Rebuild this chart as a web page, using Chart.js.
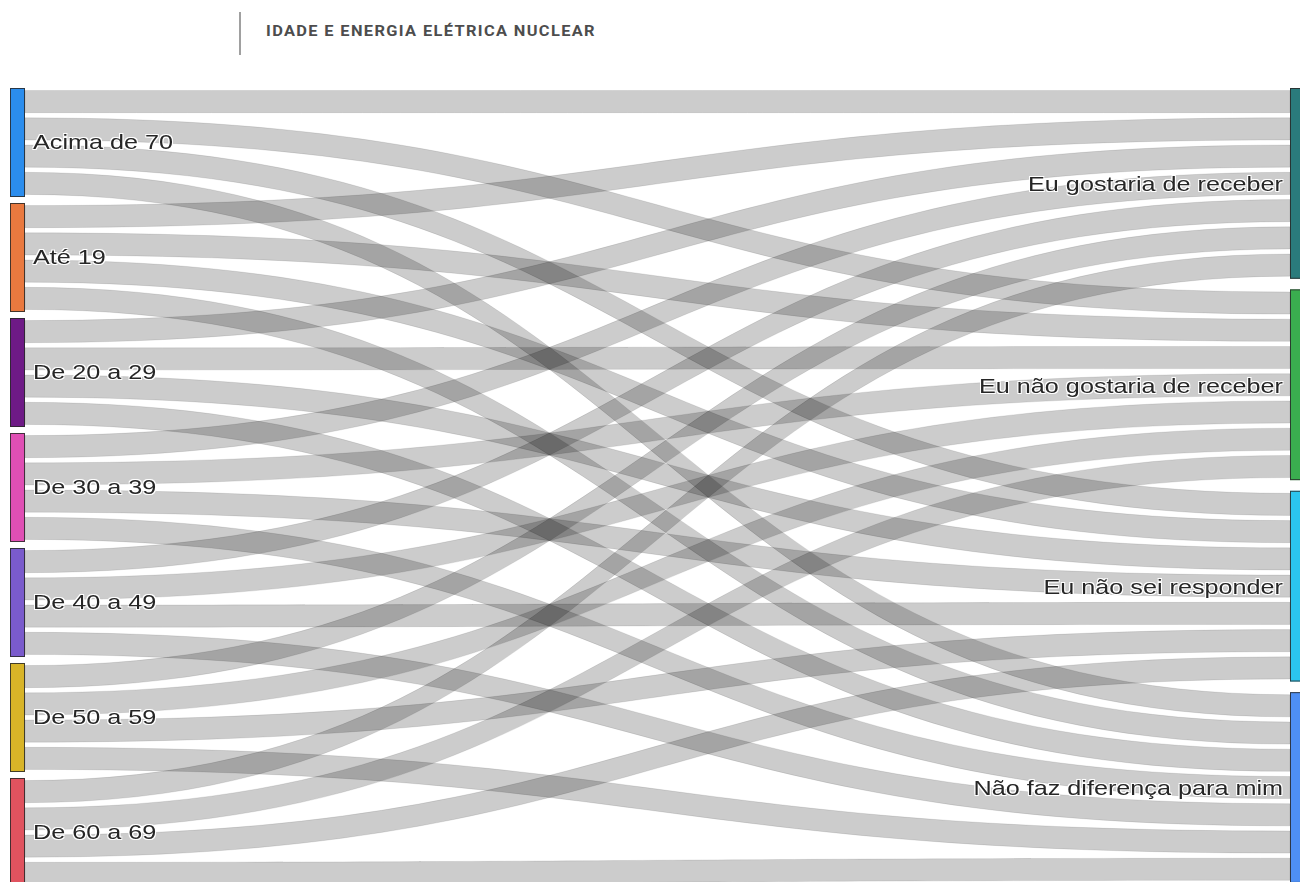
<!DOCTYPE html>
<html lang="pt">
<head>
<meta charset="utf-8">
<title>Idade e energia elétrica nuclear</title>
<script src="https://cdn.jsdelivr.net/npm/chart.js@4/dist/chart.umd.min.js"></script>
<style>
  html, body { margin: 0; padding: 0; background: #ffffff; overflow: hidden; }
  #page { position: relative; width: 1300px; height: 882px; overflow: hidden; }
  #rule { position: absolute; left: 239px; top: 12px; width: 2px; height: 43px; background: #a0a0a0; }
  #heading {
    position: absolute; left: 266px; top: 23px;
    font-family: Roboto, "Liberation Sans", sans-serif; font-weight: 700;
    font-size: 14.5px; letter-spacing: 1.2px; color: #4d4d4d;
    transform: scaleX(1.13); transform-origin: left top; white-space: nowrap;
  }
  #wrap { position: absolute; left: 0; top: 0; width: 1300px; height: 887px; }
</style>
</head>
<body>
<div id="page">
  <div id="rule"></div>
  <div id="heading">IDADE E ENERGIA ELÉTRICA NUCLEAR</div>
  <div id="wrap"><canvas id="sankey"></canvas></div>
</div>
<script>
// Age groups (left column) and answers (right column)
const ages = ['Acima de 70', 'Até 19', 'De 20 a 29', 'De 30 a 39', 'De 40 a 49', 'De 50 a 59', 'De 60 a 69'];
const responses = ['Eu gostaria de receber', 'Eu não gostaria de receber', 'Eu não sei responder', 'Não faz diferença para mim'];

// Flow size from each age group (same order as `ages`) into each answer
const gostaria     = [1, 1, 1, 1, 1, 1, 1];
const naoGostaria  = [1, 1, 1, 1, 1, 1, 1];
const naoSei       = [1, 1, 1, 1, 1, 1, 1];
const semDiferenca = [1, 1, 1, 1, 1, 1, 1];

// Node colours
const ageColors = ['#2b8ded', '#e9793f', '#6e1a86', '#df4fb4', '#7a5bcc', '#d8b428', '#e0535f'];
const responseColors = ['#2a7b7c', '#3aae4f', '#2bc5ee', '#4e8ff4'];

const flowsByResponse = [gostaria, naoGostaria, naoSei, semDiferenca];

// Left node totals and right node totals derived from the flows
const ageTotals = ages.map((_, i) => flowsByResponse.reduce((s, arr) => s + arr[i], 0));
const responseTotals = flowsByResponse.map(arr => arr.reduce((s, v) => s + v, 0));

const LEFT_PAD = 0.22;          // vertical gap between age nodes (value units)
const RIGHT_PAD = 0.39;         // vertical gap between answer nodes (value units)
const LINK_INSET = 0.095;       // white space on each side of a band (value units)
const NODE_W = 15;              // node thickness in px
const leftSpan = ageTotals.reduce((s, v) => s + v, 0) + LEFT_PAD * (ages.length - 1);

function layoutColumn(totals, pad) {
  const out = [];
  let y = 0;
  totals.forEach(t => { out.push({ y0: y, y1: y + t }); y += t + pad; });
  return out;
}

const sankeyPlugin = {
  id: 'sankeyDraw',
  afterDatasetsDraw(chart) {
    const ctx = chart.ctx;
    const xs = chart.scales.x, ys = chart.scales.y;
    const leftNodes = layoutColumn(ageTotals, LEFT_PAD);
    const rightNodes = layoutColumn(responseTotals, RIGHT_PAD);

    const xL = xs.getPixelForValue(0), xR = xs.getPixelForValue(1);
    const linkX0 = xL + NODE_W, linkX1 = xR, xm = (linkX0 + linkX1) / 2;

    // stack offsets inside each node
    const srcOff = leftNodes.map(n => n.y0);
    const tgtOff = rightNodes.map(n => n.y0);
    const links = [];
    ages.forEach((_, i) => {
      flowsByResponse.forEach((arr, j) => {
        const v = arr[i];
        links.push({ i, j, s0: srcOff[i], v });
        srcOff[i] += v;
      });
    });
    // target side ordered by source position
    responses.forEach((_, j) => {
      ages.forEach((_, i) => {
        const l = links.find(k => k.i === i && k.j === j);
        l.t0 = tgtOff[j];
        tgtOff[j] += l.v;
      });
    });

    ctx.save();
    links.forEach(l => {
      const a0 = ys.getPixelForValue(l.s0 + LINK_INSET), a1 = ys.getPixelForValue(l.s0 + l.v - LINK_INSET);
      const b0 = ys.getPixelForValue(l.t0 + LINK_INSET), b1 = ys.getPixelForValue(l.t0 + l.v - LINK_INSET);
      ctx.beginPath();
      ctx.moveTo(linkX0, a0);
      ctx.bezierCurveTo(xm, a0, xm, b0, linkX1, b0);
      ctx.lineTo(linkX1, b1);
      ctx.bezierCurveTo(xm, b1, xm, a1, linkX0, a1);
      ctx.closePath();
      ctx.fillStyle = 'rgba(0,0,0,0.2)';
      ctx.fill();
      ctx.lineWidth = 0.8;
      ctx.strokeStyle = 'rgba(0,0,0,0.12)';
      ctx.stroke();
    });

    // nodes
    ctx.lineWidth = 1;
    ctx.strokeStyle = 'rgba(40,40,40,0.85)';
    leftNodes.forEach((n, i) => {
      const top = ys.getPixelForValue(n.y0), bot = ys.getPixelForValue(n.y1);
      ctx.fillStyle = ageColors[i];
      ctx.fillRect(xL, top, NODE_W, bot - top);
      ctx.strokeRect(xL + 0.5, top + 0.5, NODE_W - 1, bot - top - 1);
    });
    rightNodes.forEach((n, j) => {
      const top = ys.getPixelForValue(n.y0), bot = ys.getPixelForValue(n.y1);
      ctx.fillStyle = responseColors[j];
      ctx.fillRect(xR, top, NODE_W, bot - top);
      ctx.strokeRect(xR + 0.5, top + 0.5, NODE_W - 1, bot - top - 1);
    });

    // labels with a white halo
    const SX = 1.2;
    function label(text, x, y, align) {
      ctx.save();
      ctx.translate(x, y);
      ctx.scale(SX, 1);
      ctx.font = '21px "Liberation Sans", Arial, sans-serif';
      ctx.textAlign = align;
      ctx.textBaseline = 'middle';
      ctx.fillStyle = '#ffffff';
      [[1, 1], [-1, -1], [1, -1], [-1, 1]].forEach(([dx, dy]) => ctx.fillText(text, dx / SX, dy));
      ctx.fillStyle = '#262626';
      ctx.fillText(text, 0, 0);
      ctx.restore();
    }
    leftNodes.forEach((n, i) => {
      label(ages[i], xL + NODE_W + 8, ys.getPixelForValue((n.y0 + n.y1) / 2) + 1, 'left');
    });
    rightNodes.forEach((n, j) => {
      label(responses[j], xR - 7, ys.getPixelForValue((n.y0 + n.y1) / 2) + 2, 'right');
    });
    ctx.restore();
  }
};

new Chart(document.getElementById('sankey'), {
  type: 'scatter',
  data: { datasets: [] },
  options: {
    responsive: true,
    maintainAspectRatio: false,
    animation: false,
    layout: { padding: { top: 88, left: 10, right: 10, bottom: 0 } },
    plugins: { legend: { display: false }, tooltip: { enabled: false }, title: { display: false } },
    scales: {
      x: { type: 'linear', min: 0, max: 1, display: false },
      y: { type: 'linear', min: 0, max: leftSpan, reverse: true, display: false }
    }
  },
  plugins: [sankeyPlugin]
});
</script>
</body>
</html>
